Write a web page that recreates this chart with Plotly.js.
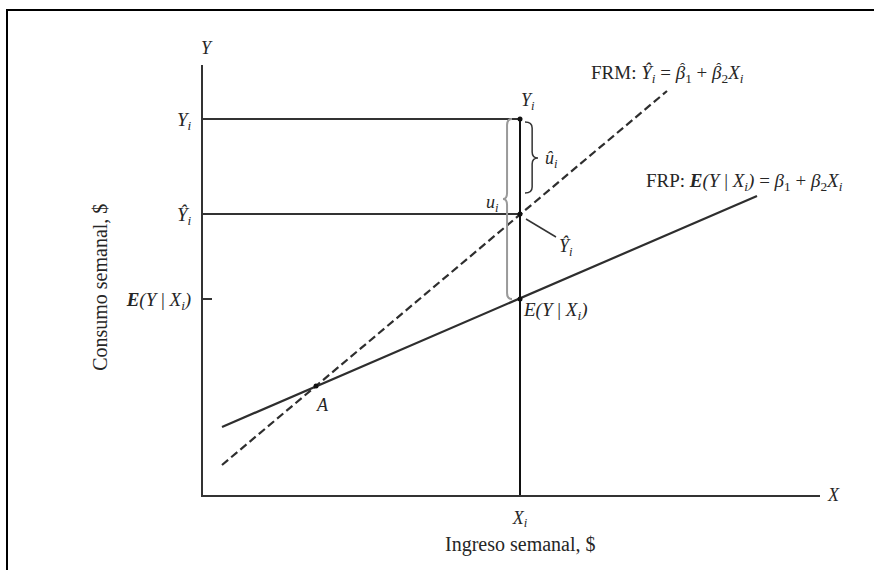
<!DOCTYPE html>
<html>
<head>
<meta charset="utf-8">
<script src="https://cdn.plot.ly/plotly-3.0.1.min.js"></script>
<style>
  html, body { margin: 0; padding: 0; background: #fff; }
  #wrap { position: relative; width: 874px; height: 570px; }
  #chart { width: 874px; height: 570px; }
  #frame { position: absolute; left: 6px; top: 9px; right: -4px; bottom: -4px;
           border-left: 2px solid #000; border-top: 2px solid #000; pointer-events: none; }
</style>
</head>
<body>
<div id="wrap"><div id="chart"></div><div id="frame"></div></div>
<script>
// Income level of interest and the three consumption levels read at it
const xi = 31.7;
const levelNames = ['Yi', 'YiHat', 'EYXi'];
const levelValues = [37.6, 28.1, 19.6];
const levelLabels = [
  '<i>Y<sub>i</sub></i>',
  '<i>Ŷ<sub>i</sub></i>',
  '<b><i>E</i></b><i>(Y</i> | <i>X<sub>i</sub>)</i>'
];

// Sample regression function (FRM) and population regression function (FRP), end points
const frmX = [1.9, 46.4];
const frmY = [3.0, 40.4];
const frpX = [1.9, 55.4];
const frpY = [6.8, 29.9];

// Point where both functions cross
const pointA = [11.3, 10.9];

const axisRangeX = [0, 61.7];
const axisRangeY = [0, 43.0];

const serif = 'Liberation Serif, Times New Roman, serif';
const ink = '#262626';

const [yi, yhat, eyx] = levelValues;

// Curly brace as an SVG path in data units; dir = -1 opens right ("{"), +1 opens left ("}")
function bracePath(xEnd, yTop, yBot, ym, dir, depth) {
  const xs = xEnd + dir * depth * 0.55;
  const xt = xEnd + dir * depth;
  const r = 0.6;
  return `M ${xEnd},${yTop} Q ${xs},${yTop} ${xs},${yTop - r} L ${xs},${ym + r} ` +
         `Q ${xs},${ym} ${xt},${ym} Q ${xs},${ym} ${xs},${ym - r} L ${xs},${yBot + r} ` +
         `Q ${xs},${yBot} ${xEnd},${yBot}`;
}

const traces = [
  { // FRM, dashed
    x: frmX, y: frmY, mode: 'lines', hoverinfo: 'skip',
    line: { color: '#2e2e2e', width: 2.2, dash: '8px,4px' }
  },
  { // FRP, solid
    x: frpX, y: frpY, mode: 'lines', hoverinfo: 'skip',
    line: { color: '#2e2e2e', width: 2.2 }
  },
  { // vertical at X_i
    x: [xi, xi], y: [0, yi], mode: 'lines', hoverinfo: 'skip',
    line: { color: '#111', width: 2 }
  },
  { // horizontal guides to Y_i and Ŷ_i
    x: [0, xi, null, 0, xi], y: [yi, yi, null, yhat, yhat], mode: 'lines', hoverinfo: 'skip',
    line: { color: '#333', width: 2 }
  },
  { // marked points
    x: [xi, xi, xi, pointA[0]], y: [yi, yhat, eyx, pointA[1]], mode: 'markers', hoverinfo: 'skip',
    marker: { color: '#111', size: 5 }
  }
];

const shapes = [
  { type: 'path', xref: 'x', yref: 'y', path: bracePath(xi - 0.8, yi, eyx, 29.6, -1, 0.9),
    line: { color: '#9a9a9a', width: 2 } },
  { type: 'path', xref: 'x', yref: 'y', path: bracePath(xi + 0.5, yi - 0.3, 30.2, 33.7, 1, 1.3),
    line: { color: '#333', width: 1.5 } },
  { type: 'line', xref: 'x', yref: 'y', x0: xi + 0.6, y0: yhat - 0.5, x1: xi + 3.6, y1: yhat - 2.3,
    line: { color: '#333', width: 1.5 } }
];

const fnt = (size) => ({ family: serif, size, color: ink });
const txt = (text, x, y, opts = {}) => Object.assign({
  text, x, y, xref: 'x', yref: 'y', showarrow: false, font: fnt(18)
}, opts);
const ptxt = (text, x, y, opts = {}) => txt(text, x, y,
  Object.assign({ xref: 'paper', yref: 'paper', xanchor: 'center', yanchor: 'middle' }, opts));

const frmLabel = 'FRM: <i>Ŷ<sub>i</sub></i> = <i>β</i><sub>1</sub> + <i>β</i><sub>2</sub><i>X<sub>i</sub></i>';
const frpLabel = 'FRP: <b><i>E</i></b><i>(Y</i> | <i>X<sub>i</sub>)</i> = <i>β</i><sub>1</sub> + <i>β</i><sub>2</sub><i>X<sub>i</sub></i>';

const annotations = [
  ptxt('<i>Y</i>', 0.007, 1.040),
  ptxt('<i>X</i>', 1.022, 0.0),
  txt('<i>Y<sub>i</sub></i>', xi + 0.8, 39.4),
  txt('<i>û<sub>i</sub></i>', 34.0, 33.6, { xanchor: 'left' }),
  txt('<i>u<sub>i</sub></i>', 29.8, 29.2, { xanchor: 'right' }),
  txt('<i>Ŷ<sub>i</sub></i>', 36.3, 24.8),
  txt('<i>E(Y</i> | <i>X<sub>i</sub>)</i>', xi + 0.05, 18.4, { xanchor: 'left', font: fnt(19) }),
  txt('<i>A</i>', 11.9, 9.0),
  txt(frmLabel, 38.6, 42.1, { xanchor: 'left', font: fnt(19) }),
  txt(frpLabel, 44.1, 31.3, { xanchor: 'left', font: fnt(19) }),
  ptxt('Ingreso semanal, $', 0.514, -0.114, { font: fnt(20) }),
  ptxt('Consumo semanal, $', -0.167, 0.484, { textangle: -90, font: fnt(20) })
];

const layout = {
  width: 874, height: 570,
  margin: { l: 203, r: 54, t: 65, b: 75 },
  paper_bgcolor: '#fff', plot_bgcolor: '#fff',
  showlegend: false,
  xaxis: {
    range: axisRangeX, showgrid: false, zeroline: false,
    showline: true, linecolor: '#333', linewidth: 2,
    tickvals: [xi], ticktext: ['<i>X<sub>i</sub></i>'], ticks: '',
    ticklabelstandoff: 5,
    tickfont: fnt(18)
  },
  yaxis: {
    range: axisRangeY, showgrid: false, zeroline: false,
    showline: true, linecolor: '#333', linewidth: 2,
    tickvals: levelValues, ticktext: levelLabels,
    ticks: 'inside', ticklen: 9, tickwidth: 2, tickcolor: '#333',
    ticklabelstandoff: 6,
    tickfont: fnt(19)
  },
  shapes, annotations
};

const gd = document.getElementById('chart');
Plotly.newPlot(gd, traces, layout, { staticPlot: true, displayModeBar: false }).then(() => {
  // Put a circumflex over each estimated coefficient in the FRM equation
  const node = Array.from(gd.querySelectorAll('text.annotation-text'))
    .find(t => t.textContent.indexOf('FRM') === 0);
  if (!node) return;
  const s = node.textContent;
  const ns = 'http://www.w3.org/2000/svg';
  for (let i = 0; i < s.length; i++) {
    if (s[i] !== 'β') continue;
    const p0 = node.getStartPositionOfChar(i);
    const p1 = node.getEndPositionOfChar(i);
    const hat = document.createElementNS(ns, 'tspan');
    hat.setAttribute('x', (p0.x + p1.x) / 2 + 2);
    hat.setAttribute('y', p0.y - 6);
    hat.setAttribute('text-anchor', 'middle');
    hat.setAttribute('style', 'font-size:15px;font-style:normal');
    hat.textContent = 'ˆ';
    node.appendChild(hat);
  }
});
</script>
</body>
</html>
